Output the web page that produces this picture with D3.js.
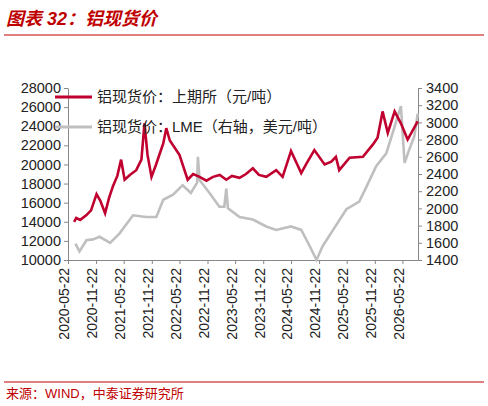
<!DOCTYPE html><html><head><meta charset="utf-8">
<script src="https://cdn.jsdelivr.net/npm/d3@7"></script>
<style>body{margin:0;background:#fff}text{font-family:Arial,"Liberation Sans","Noto Sans CJK SC",sans-serif}</style></head><body>
<svg id="c" width="488" height="406"></svg>
<script>
const shfeDates=["2020-07-01","2020-07-15","2020-08-10","2020-09-20","2020-10-20","2020-11-25","2020-12-20","2021-01-20","2021-02-15","2021-03-12","2021-04-10","2021-05-05","2021-05-28","2021-07-01","2021-08-12","2021-09-15","2021-10-05","2021-10-25","2021-11-20","2021-12-20","2022-02-05","2022-02-25","2022-03-20","2022-05-22","2022-07-15","2022-08-20","2022-10-01","2022-11-15","2022-12-28","2023-02-10","2023-03-25","2023-05-01","2023-06-20","2023-08-01","2023-09-15","2023-10-25","2023-12-12","2024-02-15","2024-03-28","2024-05-22","2024-07-28","2024-09-01","2024-10-22","2024-12-28","2025-02-10","2025-03-12","2025-04-03","2025-06-10","2025-09-05","2025-11-10","2025-12-10","2026-01-12","2026-02-15","2026-04-01","2026-05-12","2026-06-25","2026-08-30"];
const shfeValues=[14000,14400,14200,14700,15200,16900,16200,14900,16500,17700,18800,20500,18400,18900,19400,20500,24300,21000,18700,20000,22200,23800,22500,21000,18400,19000,18700,18300,18700,18900,18400,18800,18600,19000,19600,18900,18700,19400,18700,21400,19100,20100,21500,20000,20300,20800,19400,20700,20800,22100,22800,25550,23300,25550,24300,22600,24500];
const lmeDates=["2020-07-10","2020-08-05","2020-09-20","2020-11-01","2020-12-15","2021-02-22","2021-04-25","2021-07-22","2021-10-15","2021-12-22","2022-02-05","2022-04-10","2022-06-12","2022-08-05","2022-09-15","2022-09-20","2022-10-01","2022-12-05","2023-02-08","2023-03-12","2023-03-25","2023-04-05","2023-06-20","2023-09-15","2023-12-12","2024-02-15","2024-05-22","2024-07-28","2024-09-22","2024-11-05","2024-12-15","2025-02-22","2025-05-20","2025-08-12","2025-09-28","2025-12-01","2026-02-05","2026-04-01","2026-05-12","2026-06-05","2026-07-05","2026-08-08","2026-08-30"];
const lmeValues=[1590,1500,1630,1640,1670,1600,1710,1920,1900,1900,2100,2160,2270,2180,2300,2600,2330,2180,2020,2020,2230,2000,1900,1870,1790,1750,1790,1750,1560,1400,1560,1750,1990,2080,2250,2490,2640,2950,3190,2530,2680,2840,3100];
const xTicks=["2020-05-22","2020-11-22","2021-05-22","2021-11-22","2022-05-22","2022-11-22","2023-05-22","2023-11-22","2024-05-22","2024-11-22","2025-05-22","2025-11-22","2026-05-22"];
const leftTicks=[10000,12000,14000,16000,18000,20000,22000,24000,26000,28000];
const rightTicks=[1400,1600,1800,2000,2200,2400,2600,2800,3000,3200,3400];
const legendLabels=["铝现货价：上期所（元/吨）","铝现货价：LME（右轴，美元/吨）"];

const p=d3.timeParse("%Y-%m-%d");
const svg=d3.select("#c");
const L=68,R=418,T=88,B=260;
const x=d3.scaleTime().domain([p("2020-05-22"),p("2026-09-01")]).range([L,R]);
const yL=d3.scaleLinear().domain([10000,28000]).range([B,T]);
const yR=d3.scaleLinear().domain([1400,3400]).range([B,T]);

svg.append("text").attr("x",6).attr("y",25).attr("fill","#c00000").attr("font-size",18).attr("font-style","italic").attr("font-weight","bold").text("图表 32：铝现货价");
svg.append("line").attr("x1",4).attr("x2",484).attr("y1",35).attr("y2",35).attr("stroke","#c00000").attr("stroke-width",1);

const ax=svg.append("g").attr("transform",`translate(0,${B})`).call(d3.axisBottom(x).tickValues(xTicks.map(p)).tickFormat(d3.timeFormat("%Y-%m-%d")).tickSize(4).tickSizeOuter(0));
ax.selectAll("text").attr("transform","rotate(-90)").attr("text-anchor","end").attr("x",-8).attr("y",-4).attr("dy","0.35em").attr("font-size",14).attr("fill","#222");
const gl=svg.append("g").attr("transform",`translate(${L},0)`).call(d3.axisLeft(yL).tickValues(leftTicks).tickFormat(d=>d).tickSize(4).tickSizeOuter(0));
gl.selectAll("text").attr("font-size",14.5).attr("fill","#222");
const gr=svg.append("g").attr("transform",`translate(${R},0)`).call(d3.axisRight(yR).tickValues(rightTicks).tickFormat(d=>d).tickSize(4).tickSizeOuter(0));
gr.selectAll("text").attr("font-size",14.5).attr("fill","#222").attr("x",8);
svg.selectAll(".domain,.tick line").attr("stroke","#888");

const lm=lmeDates.map((d,i)=>[p(d),lmeValues[i]]);
const sh=shfeDates.map((d,i)=>[p(d),shfeValues[i]]);
svg.append("path").datum(lm).attr("fill","none").attr("stroke","#bfbfbf").attr("stroke-width",2.6).attr("d",d3.line().x(d=>x(d[0])).y(d=>yR(d[1])));
svg.append("path").datum(sh).attr("fill","none").attr("stroke","#c0002f").attr("stroke-width",2.6).attr("d",d3.line().x(d=>x(d[0])).y(d=>yL(d[1])));

[["#c0002f",97],["#bfbfbf",127]].forEach((c,i)=>{
 svg.append("line").attr("x1",55).attr("x2",92).attr("y1",c[1]).attr("y2",c[1]).attr("stroke",c[0]).attr("stroke-width",3);
 svg.append("text").attr("x",97).attr("y",c[1]+5).attr("font-size",15).attr("fill","#222").text(legendLabels[i]);
});

svg.append("line").attr("x1",4).attr("x2",484).attr("y1",382).attr("y2",382).attr("stroke","#c00000");
svg.append("text").attr("x",6).attr("y",398).attr("font-size",13).attr("fill","#c00000").text("来源：WIND，中泰证券研究所");
</script></body></html>
